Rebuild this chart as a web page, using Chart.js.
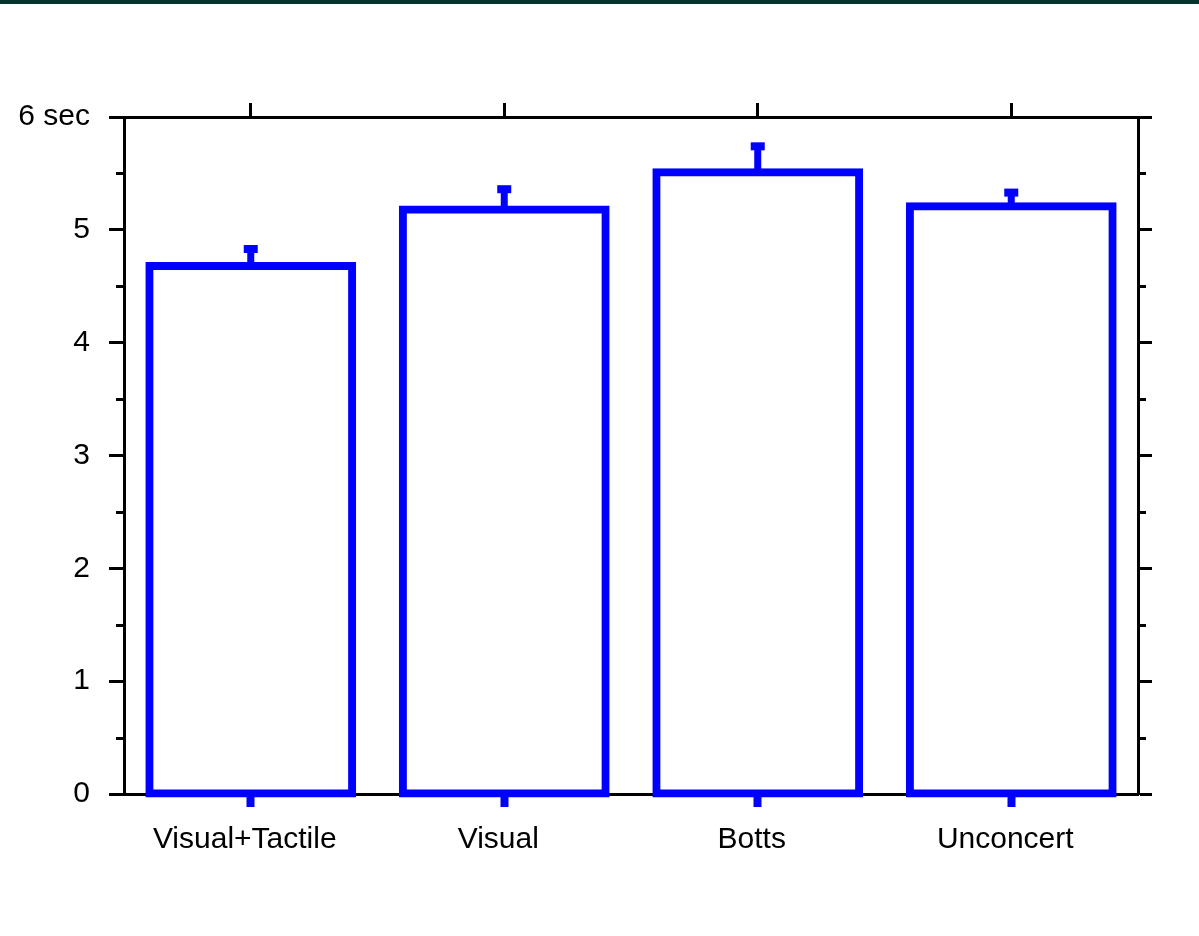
<!DOCTYPE html>
<html>
<head>
<meta charset="utf-8">
<title>Task completion time</title>
<script src="https://cdn.jsdelivr.net/npm/chart.js@4.4.1/dist/chart.umd.min.js"></script>
<style>
  html, body { margin: 0; padding: 0; background: #ffffff; }
  #wrap { position: relative; width: 1199px; height: 936px; overflow: hidden; }
  #band { position: absolute; left: 0; top: 0; width: 1199px; height: 4px; background: #05332e; z-index: 2; }
  canvas { position: absolute; left: 0; top: 0; }
</style>
</head>
<body>
<div id="wrap">
  <div id="band"></div>
  <canvas id="chart" width="1199" height="936"></canvas>
</div>
<script>
// Conditions and mean completion times (seconds)
const categories = ['Visual+Tactile', 'Visual', 'Botts', 'Unconcert'];
const meanTimes = [4.68, 5.18, 5.51, 5.21];
const errorUp = [0.15, 0.18, 0.23, 0.12];
// Y axis tick labels, 0..6
const yTickLabels = ['0', '1', '2', '3', '4', '5', '6 sec'];

const BLUE = '#0000ff';
const BLACK = '#000000';
const FONT = { family: '"Liberation Sans", Arial, Helvetica, sans-serif', size: 30 };

// Upward error bars: stem plus a square cap
const errorBars = {
  id: 'errorBars',
  afterDatasetsDraw(chart) {
    const ctx = chart.ctx;
    const y = chart.scales.y;
    const meta = chart.getDatasetMeta(0);
    ctx.save();
    ctx.fillStyle = BLUE;
    meta.data.forEach((bar, i) => {
      const top = y.getPixelForValue(meanTimes[i] + errorUp[i]);
      const base = y.getPixelForValue(meanTimes[i]);
      ctx.fillRect(bar.x - 3.5, top, 7, base - top);
      ctx.fillRect(bar.x - 7, top - 4, 14, 8);
    });
    ctx.restore();
  }
};

// Short minor ticks at half-second steps on both vertical axes
const minorTicks = {
  id: 'minorTicks',
  afterDraw(chart) {
    const ctx = chart.ctx;
    const y = chart.scales.y;
    const area = chart.chartArea;
    ctx.save();
    ctx.strokeStyle = BLACK;
    ctx.lineWidth = 3;
    ctx.beginPath();
    for (let v = 0.5; v < 6; v += 1) {
      const py = Math.round(y.getPixelForValue(v)) + 0.5;
      ctx.moveTo(area.left - 8, py);
      ctx.lineTo(area.left, py);
      ctx.moveTo(area.right, py);
      ctx.lineTo(area.right + 8, py);
    }
    ctx.stroke();
    ctx.restore();
  }
};

new Chart(document.getElementById('chart'), {
  type: 'bar',
  data: {
    labels: categories,
    datasets: [{
      data: meanTimes,
      backgroundColor: '#ffffff',
      borderColor: BLUE,
      borderWidth: 8,
      borderSkipped: false,
      inflateAmount: 4,
      barPercentage: 0.8,
      categoryPercentage: 1.0,
      clip: false
    }]
  },
  options: {
    responsive: false,
    devicePixelRatio: 1,
    animation: false,
    layout: { padding: 0 },
    plugins: { legend: { display: false }, tooltip: { enabled: false } },
    scales: {
      x: {
        position: 'bottom',
        grid: { offset: false, drawOnChartArea: false, tickColor: BLUE, tickWidth: 8, tickLength: 13 },
        border: { display: true, color: BLACK, width: 3 },
        ticks: { color: BLACK, font: FONT, padding: 15, maxRotation: 0, labelOffset: -6 },
        afterFit(scale) { scale.height = 142; }
      },
      xTop: {
        type: 'category',
        position: 'top',
        labels: categories,
        grid: { offset: false, drawOnChartArea: false, tickColor: BLACK, tickWidth: 3, tickLength: 14 },
        border: { display: true, color: BLACK, width: 3 },
        ticks: { display: false },
        afterFit(scale) { scale.height = 117; }
      },
      y: {
        position: 'left',
        min: 0,
        max: 6,
        ticks: {
          stepSize: 1,
          color: BLACK,
          font: FONT,
          padding: 19,
          callback: (v) => yTickLabels[Math.round(v)]
        },
        grid: { drawOnChartArea: false, tickColor: BLACK, tickWidth: 3, tickLength: 15 },
        border: { display: true, color: BLACK, width: 3 },
        afterFit(scale) { scale.width = 124; }
      },
      yRight: {
        position: 'right',
        min: 0,
        max: 6,
        ticks: { display: false, stepSize: 1 },
        grid: { drawOnChartArea: false, tickColor: BLACK, tickWidth: 3, tickLength: 14 },
        border: { display: true, color: BLACK, width: 3 },
        afterFit(scale) { scale.width = 61; }
      }
    }
  },
  plugins: [errorBars, minorTicks]
});
</script>
</body>
</html>
